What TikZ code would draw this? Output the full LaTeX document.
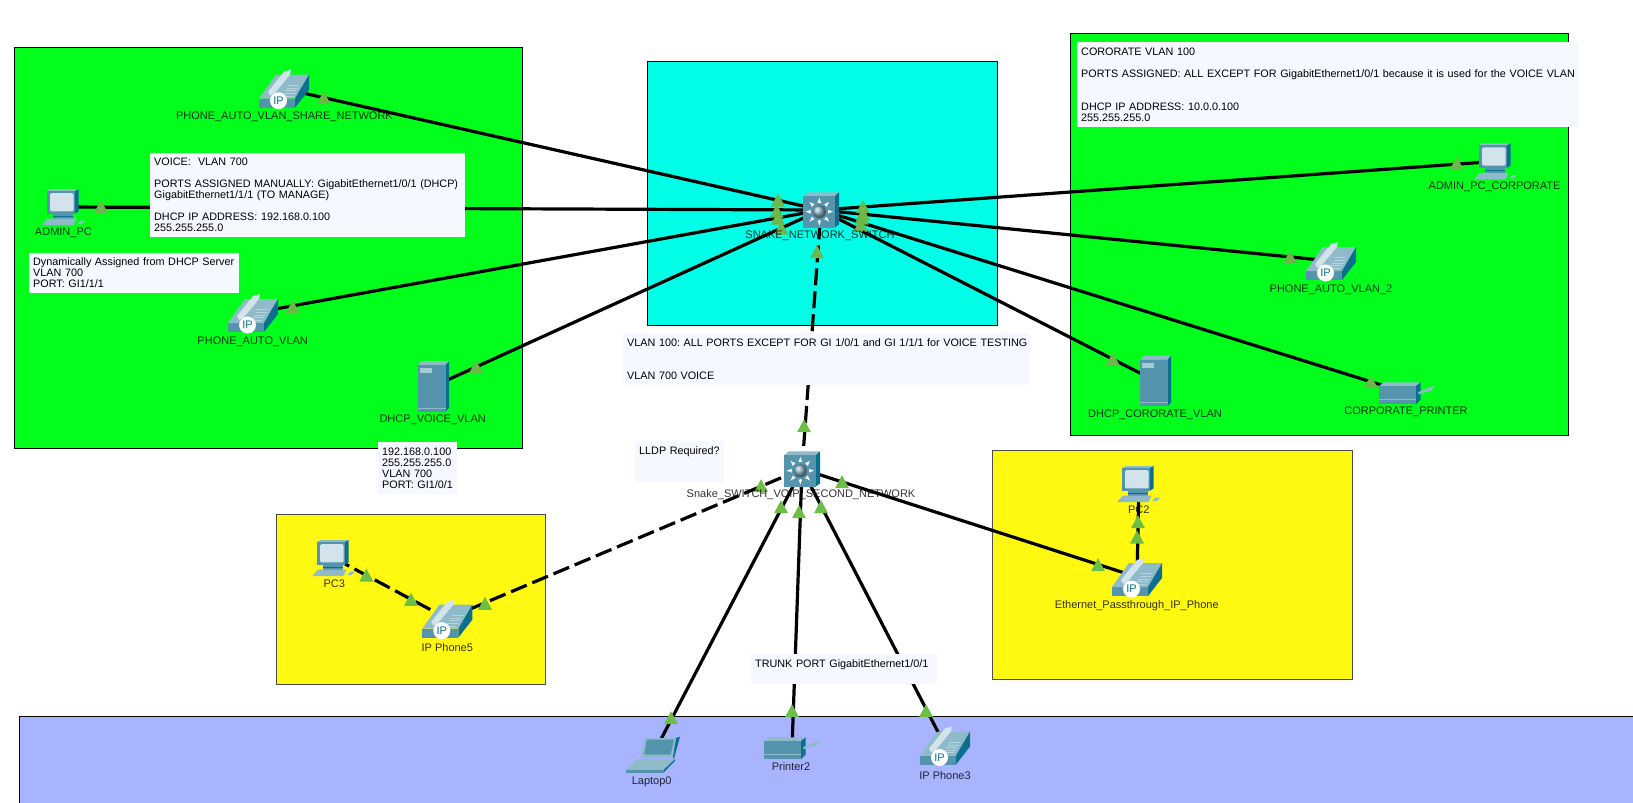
\documentclass[tikz,border=0pt]{standalone}
\usepackage{fontspec}
\setmainfont{Liberation Sans}
\usetikzlibrary{arrows}
\definecolor{zonegreen}{HTML}{00FF1A}
\definecolor{zonecyan}{HTML}{00FFE6}
\definecolor{zoneyellow}{HTML}{FFF912}
\definecolor{zoneblue}{HTML}{A8B4FF}
\definecolor{notefill}{HTML}{F6F8FF}
\definecolor{iconfront}{HTML}{5594AD}
\definecolor{icontop}{HTML}{8FBACA}
\definecolor{iconside}{HTML}{0B6F90}
\definecolor{iconpale}{HTML}{D3E3EB}
\definecolor{tridim}{HTML}{6DB84A}
\definecolor{tribright}{HTML}{6CBE46}
\newcommand{\devfont}{\fontsize{11}{11}\selectfont\frenchspacing}
\newcommand{\notefont}{\fontsize{10.8}{11}\selectfont\frenchspacing}
\tikzset{
  zone/.style={draw=black,line width=1pt},
  devnode/.style={inner sep=0pt,minimum size=0pt},
  devlabel/.style={font=\devfont,text opacity=0.8,inner sep=0pt},
  notebox/.style={fill=notefill,anchor=north west,align=left,inner xsep=4pt,inner ysep=0pt,font=\notefont},
  link/.style={black,line width=3.2pt},
  dashlink/.style={black,line width=3.2pt,dash pattern=on 17pt off 6pt},
  pics/ipphone/.style={code={
    \fill[iconfront] (-25,10) rectangle (11,19);
    \fill[icontop] (-25,10) -- (-8,-14) -- (25,-14) -- (11,10) -- cycle;
    \fill[iconside] (11,10) -- (25,-14) -- (25,1) -- (11,19) -- cycle;
    \fill[iconpale] (-16,3) -- (0,-17) -- (7,-19) -- (6,-14) -- (-9,4) -- (-14,7) -- cycle;
    \foreach \k in {0,...,4}
      \draw[icontop!40!iconpale,line width=0.3pt] (-2+\k*1.6,7-\k*2.6) -- (9+\k*1.6,7-\k*2.6);
    \node[circle,fill=white,inner sep=0pt,minimum size=17pt,text=iconside,font=\fontsize{11}{11}\selectfont] (-ip) at (-5.5,12) {IP};
  }},
  pics/pcbox/.style={code={
    \fill[icontop] (-17,-16) -- (-13.3,-18) -- (14.7,-18) -- (11,-16) -- cycle;
    \fill[iconside] (11,-16) -- (14.7,-18) -- (14.7,4.3) -- (11,6.7) -- cycle;
    \fill[iconfront] (-17,-16) rectangle (11,6.7);
    \fill[iconpale,rounded corners=1.5pt] (-14,-14) rectangle (9.7,4.3);
    \fill[iconfront] (-11,6.7) rectangle (9,11.7);
    \fill[iconside] (-11,9) rectangle (9,9.6);
    \fill[icontop] (-21.7,18) -- (-16.3,11.7) -- (12.7,11.7) -- (9.3,18) -- cycle;
    \fill[icontop] (13.3,17) -- (16.7,13.7) -- (21,13.7) -- (17.7,17) -- cycle;
  }},
  pics/swicon/.style={code={
    \fill[icontop] (-17.7,-13.7) -- (-13.4,-17.7) -- (18,-17.7) -- (13.7,-13.7) -- cycle;
    \fill[iconside] (13.7,-13.7) -- (18,-17.7) -- (18,14.3) -- (13.7,17.7) -- cycle;
    \fill[iconfront] (-17.7,-13.7) rectangle (13.7,17.7);
    \foreach \a in {0,45,...,315}
      \draw[white,line width=0.8pt,-latex] (-1.7,1.7)+(\a:8.5) -- +(\a:14);
    \shade[ball color=iconfront!70!white] (-1.7,1.7) circle [radius=6.5];
  }},
  pics/srvicon/.style={code={
    \fill[icontop] (-15.3,-21.3) -- (-11.7,-25.3) -- (15.7,-25.3) -- (12,-21.3) -- cycle;
    \fill[iconside] (12,-21.3) -- (15.7,-25.3) -- (15.7,21.3) -- (12,25.3) -- cycle;
    \fill[iconfront] (-15.3,-21.3) rectangle (12,25.3);
    \fill[icontop!80!white] (-13.3,-18) rectangle (-1.3,-13.3);
    \draw[icontop,line width=0.6pt] (-15.3,21.7) -- (12,21.7);
  }},
  pics/prnicon/.style={code={
    \fill[icontop] (-28,-7) -- (-23,-10.7) -- (13.7,-10.7) -- (9,-7) -- cycle;
    \fill[iconside] (9,-7) -- (13.7,-10.7) -- (13.7,6.3) -- (9,11.3) -- cycle;
    \fill[iconfront] (-28,-7) rectangle (9,11.3);
    \draw[icontop,line width=0.6pt] (-28,6.3) -- (9,6.3);
    \fill[icontop] (11.3,-1) -- (28,-7.7) -- (24.7,-2.7) -- (11.3,1.3) -- cycle;
  }},
  pics/lapicon/.style={code={
    \fill[iconside] (23,-16.7) -- (27,-17.7) -- (21,4) -- (19.7,3.3) -- cycle;
    \fill[icontop] (-8,-16.7) -- (23,-16.7) -- (19.7,3.3) -- (-12.3,3.3) -- cycle;
    \fill[iconfront] (-6.3,-15) -- (21,-15) -- (17.7,0) -- (-8.7,0) -- cycle;
    \fill[icontop] (-27,15.7) -- (-16.3,4.7) -- (22,4.7) -- (10.3,15.7) -- cycle;
    \fill[iconfront] (-27,15.7) rectangle (10.3,18.3);
    \fill[iconside] (10.3,15.7) -- (22,4.7) -- (22,6.3) -- (10.3,18.3) -- cycle;
  }},
}
\begin{document}
\begin{tikzpicture}[x=1pt,y=-1pt]
\useasboundingbox (0,0) rectangle (1633,803);
%zones
\draw[zone,fill=zonegreen] (14.5,47.5) rectangle (522,448);
\draw[zone,fill=zonecyan] (647.5,61.5) rectangle (997.7,325);
\draw[zone,fill=zonegreen] (1070.5,33.5) rectangle (1568.5,435);
\draw[zone,draw=black!70,fill=zoneyellow] (276,514.5) rectangle (545.5,684.5);
\draw[zone,draw=black!70,fill=zoneyellow] (992.5,450) rectangle (1352,679);
\draw[zone,fill=zoneblue] (19,716) rectangle (1640,810);
%device positions
\foreach \n/\x/\y in {phoneshare/284/88.7,adminpc/64/207,phoneauto/253/313,dhcpvoice/433.5/386.3,
  mainswitch/821/210,voipswitch/802/469,corppc/1496/161.3,phonetwo/1331/261,dhcpcorp/1155.5/381,
  corpprinter/1407/393,pctwo/1139/484,phonepass/1137/577,pcthree/334/558,phonefive/447.3/618.7,
  laptopzero/653/754.5,printertwo/792/748,phonethree/945/745.5}
  \node[devnode] (\n) at (\x,\y) {};
%connectors
\foreach \a in {phoneshare,adminpc,phoneauto,dhcpvoice,corppc,phonetwo,dhcpcorp,corpprinter}
  \draw[link] (\a) -- (mainswitch);
\foreach \a in {laptopzero,printertwo,phonethree,phonepass}
  \draw[link] (\a) -- (voipswitch);
\draw[link] (pctwo) -- (phonepass);
\draw[dashlink] (pcthree) -- (phonefive);
\draw[dashlink] (phonefive) -- (voipswitch);
\draw[dashlink] (voipswitch) -- (mainswitch);
%notes
\node[notebox,text width=306.5pt,minimum height=84.4pt] (voicenote) at (150,152.3) {VOICE:\ \ VLAN 700\\~\\\mbox{PORTS ASSIGNED MANUALLY: GigabitEthernet1/0/1 (DHCP)}\\GigabitEthernet1/1/1 (TO MANAGE)\\~\\DHCP IP ADDRESS: 192.168.0.100\\255.255.255.0};
\node[notebox,text width=201.5pt,minimum height=40.4pt] (dynnote) at (29,252.3) {\mbox{Dynamically Assigned from DHCP Server}\\VLAN 700\\PORT: GI1/1/1};
\node[notebox,text width=71pt,minimum height=51.7pt] (servernote) at (378,442) {192.168.0.100\\255.255.255.0\\VLAN 700\\\mbox{PORT: GI1/0/1}};
\node[notebox,text width=399pt,minimum height=52pt] (vlannote) at (623,333) {\mbox{VLAN 100: ALL PORTS EXCEPT FOR GI 1/0/1 and GI 1/1/1 for VOICE TESTING}\\~\\~\\VLAN 700 VOICE};
\node[notebox,text width=81pt,minimum height=40.7pt] (lldpnote) at (635,441) {\mbox{LLDP Required?}\\~\\~};
\node[notebox,text width=494pt,minimum height=84.7pt] (corpnote) at (1077,42) {CORORATE VLAN 100\\~\\\mbox{PORTS ASSIGNED: ALL EXCEPT FOR GigabitEthernet1/0/1 because it is used for the VOICE VLAN}\\~\\~\\DHCP IP ADDRESS: 10.0.0.100\\255.255.255.0};
\node[notebox,text width=177.7pt,minimum height=30pt] (trunknote) at (751,654) {TRUNK PORT GigabitEthernet1/0/1\\~};
%icons
\foreach \n in {phoneshare,phoneauto,phonetwo,phonepass,phonefive,phonethree}
  \pic (\n) at (\n) {ipphone};
\foreach \n in {adminpc,corppc,pctwo,pcthree}
  \pic at (\n) {pcbox};
\foreach \n in {mainswitch,voipswitch}
  \pic at (\n) {swicon};
\foreach \n in {dhcpvoice,dhcpcorp}
  \pic at (\n) {srvicon};
\foreach \n in {corpprinter,printertwo}
  \pic at (\n) {prnicon};
\pic at (laptopzero) {lapicon};
%link lights
\foreach \x/\y in {323.7/97.7,101/206.7,292.7/306.7,476/366.7,778/200,776.7/211,778/218,781.3/228,
  863/206.7,863/214,861.7/218,860.7/225,817/251.7,1456.7/163.3,1290/257,1112.7/359,1370.7/381.7}
  \fill[tridim] (\x-7,\y+6.5) -- (\x+7,\y+6.5) -- (\x,\y-6.5) -- cycle;
\foreach \x/\y in {804/425.7,761/485.7,842/481.7,781/506.7,799/511.7,821/506.7,1138/521.7,1137/537,1098/564.7,
  366.3/575,411/599.3,485/603.3,671/717.7,792/710.7,926/710.7}
  \fill[tribright] (\x-7,\y+6.5) -- (\x+7,\y+6.5) -- (\x,\y-6.5) -- cycle;
%labels
\node[devlabel] (phonesharelbl) at (284.4,117) {PHONE\_AUTO\_VLAN\_SHARE\_NETWORK};
\node[devlabel] (adminpclbl) at (63.4,233) {ADMIN\_PC};
\node[devlabel] (phoneautolbl) at (252.7,342) {PHONE\_AUTO\_VLAN};
\node[devlabel] (dhcpvoicelbl) at (432.7,420) {DHCP\_VOICE\_VLAN};
\node[devlabel] (mainswitchlbl) at (820,236) {SNAKE\_NETWORK\_SWITCH};
\node[devlabel] (voipswitchlbl) at (801,495) {Snake\_SWITCH\_VOIP\_SECOND\_NETWORK};
\node[devlabel] (corppclbl) at (1494.6,187) {ADMIN\_PC\_CORPORATE};
\node[devlabel] (phonetwolbl) at (1331,290) {PHONE\_AUTO\_VLAN\_2};
\node[devlabel] (dhcpcorplbl) at (1155,414.7) {DHCP\_CORORATE\_VLAN};
\node[devlabel] (corpprinterlbl) at (1406,412) {CORPORATE\_PRINTER};
\node[devlabel] (pctwolbl) at (1138.7,510) {PC2};
\node[devlabel] (phonepasslbl) at (1136.7,606) {Ethernet\_Passthrough\_IP\_Phone};
\node[devlabel] (pcthreelbl) at (334.3,584) {PC3};
\node[devlabel] (phonefivelbl) at (447.3,648) {IP Phone5};
\node[devlabel] (laptoplbl) at (651.7,781.3) {Laptop0};
\node[devlabel] (printertwolbl) at (791,767) {Printer2};
\node[devlabel] (phonethreelbl) at (945,775.3) {IP Phone3};
\end{tikzpicture}
\end{document}
